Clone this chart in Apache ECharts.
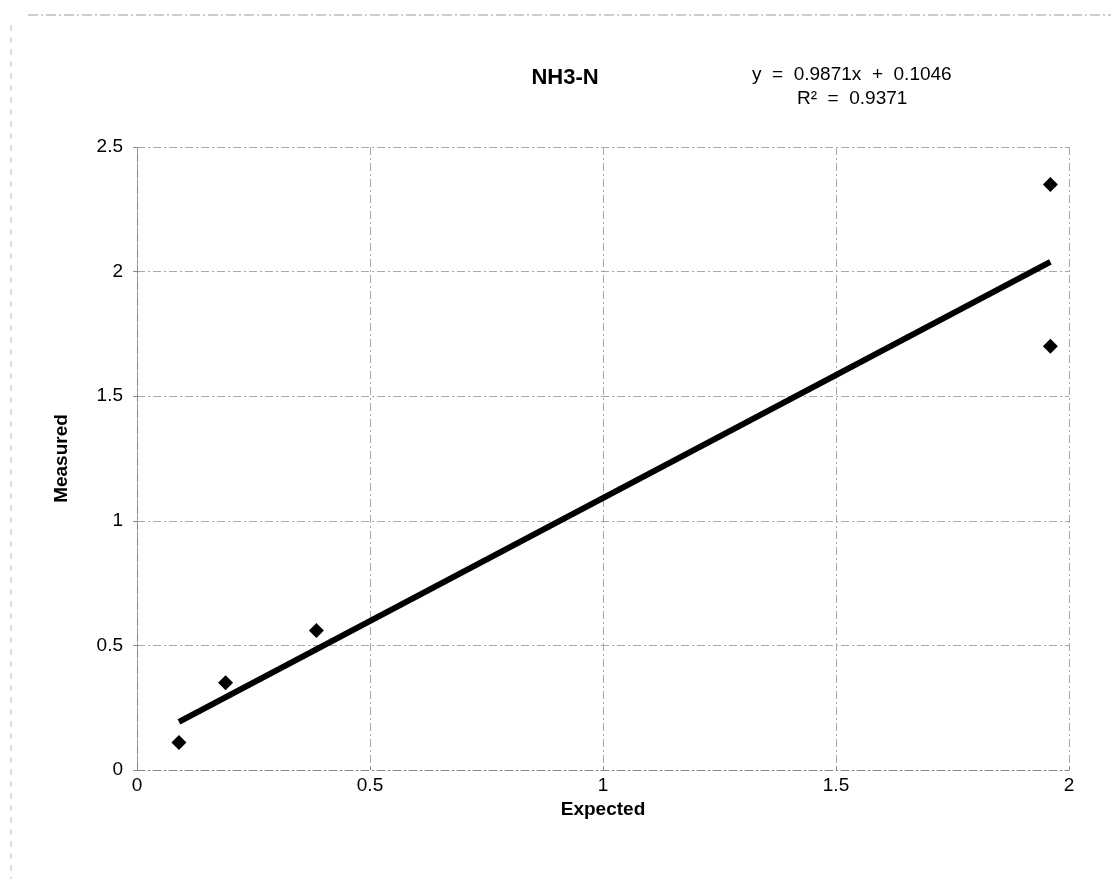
<!DOCTYPE html>
<html>
<head>
<meta charset="utf-8">
<style>
  html, body { margin: 0; padding: 0; background: #fff; }
  #main { width: 1111px; height: 879px; }
</style>
<script src="https://cdn.jsdelivr.net/npm/echarts@6/dist/echarts.min.js"></script>
</head>
<body>
<div id="main"></div>
<script>
// data
var expected = [0.09, 0.19, 0.385, 1.96, 1.96];
var measured = [0.11, 0.35, 0.56, 1.70, 2.35];
var xTicks = [0, 0.5, 1, 1.5, 2];
var yTicks = [0, 0.5, 1, 1.5, 2, 2.5];
// trendline as printed on the chart
var slope = 0.9871;
var intercept = 0.1046;
var rSquared = 0.9371;

var points = expected.map(function (x, i) { return [x, measured[i]]; });
var xMin = Math.min.apply(null, expected);
var xMax = Math.max.apply(null, expected);
var trend = [[xMin, slope * xMin + intercept], [xMax, slope * xMax + intercept]];

var myChart = echarts.init(document.getElementById('main'));

var font = 'Liberation Sans, Arial, sans-serif';
var gridLine = { show: true, lineStyle: { color: '#a8a8a8', width: 1, type: [8, 3, 2, 3] } };

var option = {
    backgroundColor: '#fff',
    animation: false,
    textStyle: { fontFamily: font },
    title: [{
        text: 'NH3-N',
        left: 560, top: 62,
        textAlign: 'center',
        textStyle: { fontSize: 22, fontWeight: 'bold', color: '#000' }
    }],
    grid: { left: 137, right: 42, top: 147, bottom: 109 },
    xAxis: {
        type: 'value', min: 0, max: 2, interval: 0.5,
        name: 'Expected', nameLocation: 'middle', nameGap: 30,
        nameTextStyle: { fontSize: 19, fontWeight: 'bold', color: '#000' },
        axisLine: { show: true, lineStyle: { color: '#888', type: [8, 3, 2, 3] } },
        axisTick: { show: true, length: 4, inside: true, lineStyle: { color: '#888' } },
        axisLabel: { fontSize: 19, color: '#000', margin: 6,
            formatter: function (v) { return xTicks.indexOf(v) >= 0 ? String(v) : ''; } },
        splitLine: gridLine
    },
    yAxis: {
        type: 'value', min: 0, max: 2.5, interval: 0.5,
        name: 'Measured', nameLocation: 'middle', nameGap: 66, nameRotate: 90,
        nameTextStyle: { fontSize: 19, fontWeight: 'bold', color: '#000' },
        axisLine: { show: true, lineStyle: { color: '#888', type: [8, 3, 2, 3] } },
        axisTick: { show: true, length: 4, inside: false, lineStyle: { color: '#888' } },
        axisLabel: { fontSize: 19, color: '#000', margin: 14,
            formatter: function (v) { return yTicks.indexOf(v) >= 0 ? String(v) : ''; } },
        splitLine: gridLine
    },
    graphic: [
        { type: 'line', shape: { x1: 28, y1: 15, x2: 1111, y2: 15 },
          style: { stroke: '#999', lineWidth: 1, lineDash: [10, 3, 2, 3] } },
        { type: 'line', shape: { x1: 11, y1: 25, x2: 11, y2: 879 },
          style: { stroke: '#bbb', lineWidth: 1, lineDash: [6, 6] } },
        { type: 'text', left: 752, top: 65,
          style: { text: 'y  =  ' + slope + 'x  +  ' + intercept, fontSize: 19,
                   fontFamily: font, fill: '#000' } },
        { type: 'text', left: 797, top: 89,
          style: { text: 'R²  =  ' + rSquared, fontSize: 19,
                   fontFamily: font, fill: '#000' } }
    ],
    series: [{
        name: 'trend',
        type: 'line',
        data: trend,
        symbol: 'none',
        lineStyle: { color: '#000', width: 6 },
        z: 2
    }, {
        name: 'NH3-N',
        type: 'scatter',
        data: points,
        symbol: 'diamond',
        symbolSize: [15, 15],
        itemStyle: { color: '#000', opacity: 1 },
        z: 3
    }]
};

myChart.setOption(option);
</script>
</body>
</html>
